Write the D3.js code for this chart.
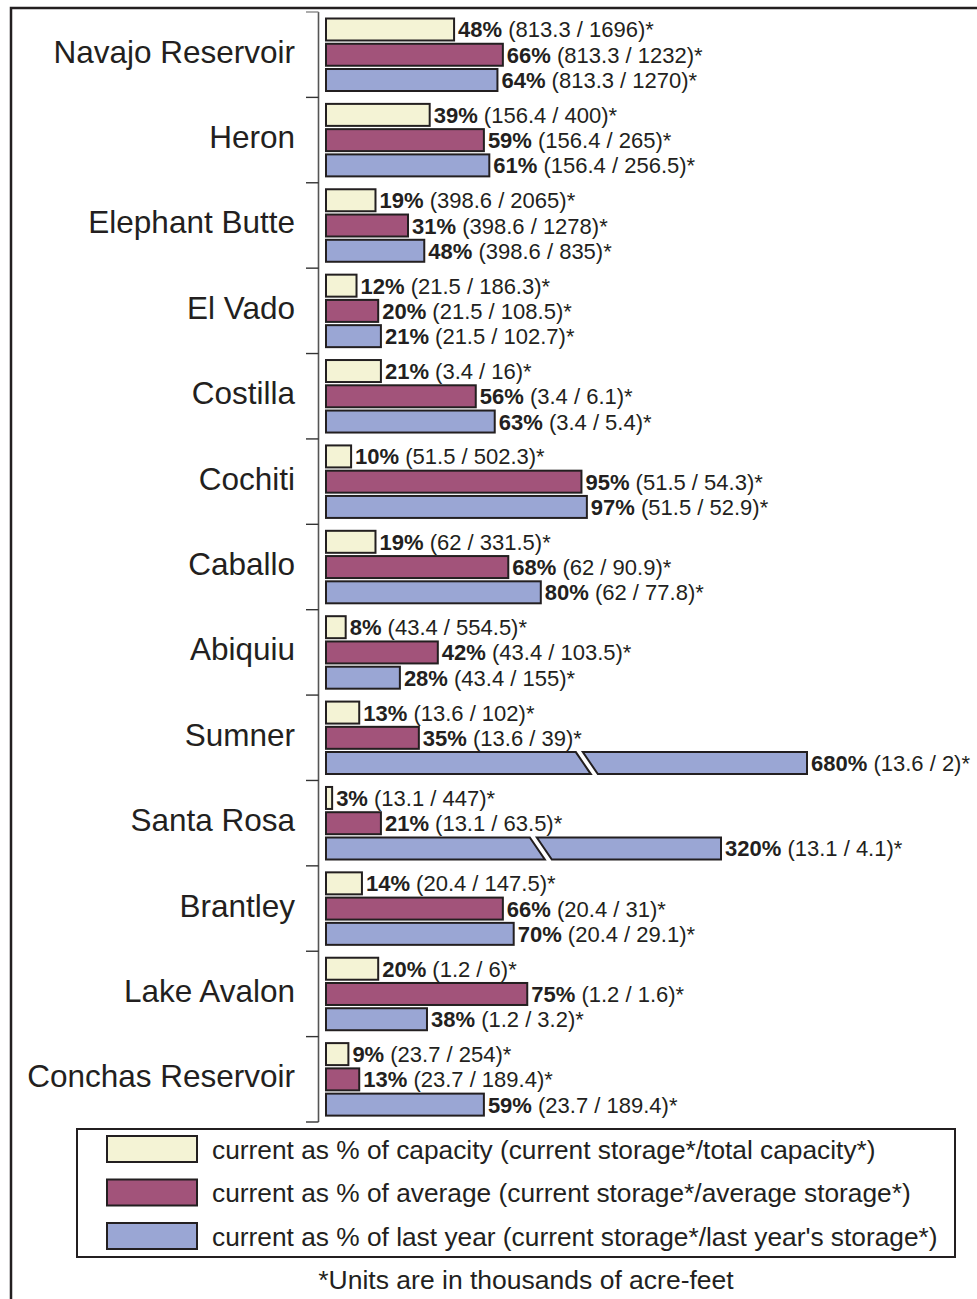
<!DOCTYPE html>
<html>
<head>
<meta charset="utf-8">
<script src="https://cdn.jsdelivr.net/npm/d3@7"></script>
<style>
  html, body { margin: 0; padding: 0; background: #fff; }
  svg { display: block; }
  text { font-family: "Liberation Sans", Arial, Helvetica, sans-serif; fill: #231f20; }
</style>
</head>
<body>
<svg id="chart" width="977" height="1299"></svg>
<script>
const categories = ["Navajo Reservoir","Heron","Elephant Butte","El Vado","Costilla","Cochiti","Caballo","Abiquiu","Sumner","Santa Rosa","Brantley","Lake Avalon","Conchas Reservoir"];
const capacityPct = [48,39,19,12,21,10,19,8,13,3,14,20,9];
const averagePct  = [66,59,31,20,56,95,68,42,35,21,66,75,13];
const lastYearPct = [64,61,48,21,63,97,80,28,680,320,70,38,59];
// bar lengths as drawn in the picture (Elephant Butte's last-year bar is drawn shorter than its label)
const lastYearBarPct = [64,61,37,21,63,97,80,28,680,320,70,38,59];
const currentStorage  = ["813.3","156.4","398.6","21.5","3.4","51.5","62","43.4","13.6","13.1","20.4","1.2","23.7"];
const totalCapacity   = ["1696","400","2065","186.3","16","502.3","331.5","554.5","102","447","147.5","6","254"];
const averageStorage  = ["1232","265","1278","108.5","6.1","54.3","90.9","103.5","39","63.5","31","1.6","189.4"];
const lastYearStorage = ["1270","256.5","835","102.7","5.4","52.9","77.8","155","2","4.1","29.1","3.2","189.4"];
const seriesNames = [
  "current as % of capacity (current storage*/total capacity*)",
  "current as % of average (current storage*/average storage*)",
  "current as % of last year (current storage*/last year's storage*)"
];
const seriesColors = ["#f4f3d5", "#a2537a", "#9aa6d4"];
const footnote = "*Units are in thousands of acre-feet";
const breakDomain = [320, 680]; // values beyond the normal axis, drawn on a broken scale

const svg = d3.select("#chart");
const ink = "#231f20";

// outer frame
svg.append("rect").attr("x", 11).attr("y", 8).attr("width", 1000).attr("height", 1320)
  .attr("fill", "none").attr("stroke", ink).attr("stroke-width", 2.5);

const x = d3.scaleLinear().domain([0, 100]).range([325, 596]);
const xBroken = d3.scaleLinear().domain(breakDomain).range([722, 808]);
const xPos = v => v > 100 ? xBroken(v) : x(v);

const y0 = d3.scaleBand().domain(categories).range([12, 1122]);
const y1 = d3.scaleBand().domain([0, 1, 2]).range([5.5, 80]).paddingInner(0.05);

// axis
const axisX = 318.5;
const axisG = svg.append("g");
axisG.append("line").attr("x1", axisX).attr("x2", axisX).attr("y1", y0.range()[0]).attr("y2", y0.range()[1])
  .attr("stroke", "#555").attr("stroke-width", 1.6);
const tickYs = categories.map(c => y0(c)).concat([y0.range()[1]]);
axisG.selectAll("line.tick").data(tickYs).join("line").attr("class", "tick")
  .attr("x1", 306).attr("x2", axisX).attr("y1", d => d).attr("y2", d => d)
  .attr("stroke", (d, i) => i === 0 ? "#888" : "#333").attr("stroke-width", 1.4);

// category labels
svg.selectAll("text.cat").data(categories).join("text").attr("class", "cat")
  .attr("x", 295).attr("y", d => y0(d) + y0.bandwidth() / 2 + 8)
  .attr("text-anchor", "end").attr("font-size", 31.5).text(d => d);

// bars
const rows = [];
categories.forEach((c, i) => {
  rows.push({c, s: 0, bar: capacityPct[i], pct: capacityPct[i], txt: `(${currentStorage[i]} / ${totalCapacity[i]})*`});
  rows.push({c, s: 1, bar: averagePct[i], pct: averagePct[i], txt: `(${currentStorage[i]} / ${averageStorage[i]})*`});
  rows.push({c, s: 2, bar: lastYearBarPct[i], pct: lastYearPct[i], txt: `(${currentStorage[i]} / ${lastYearStorage[i]})*`});
});

const sw = 2;
const barG = svg.append("g");
rows.forEach(r => {
  const top = y0(r.c) + y1(r.s) + sw / 2;
  const h = y1.bandwidth() - sw;
  const x0 = x(0) + sw / 2;
  const x1 = xPos(r.bar) - sw / 2;
  if (r.bar > 100) {
    const bx = x0 + (x1 - x0) * 0.535;
    const slant = 7.5, gap = 7;
    barG.append("path")
      .attr("d", `M${x0},${top}L${bx - slant},${top}L${bx + slant},${top + h}L${x0},${top + h}Z`)
      .attr("fill", seriesColors[r.s]).attr("stroke", ink).attr("stroke-width", sw).attr("stroke-linejoin", "miter");
    barG.append("path")
      .attr("d", `M${bx - slant + gap},${top}L${x1},${top}L${x1},${top + h}L${bx + slant + gap},${top + h}Z`)
      .attr("fill", seriesColors[r.s]).attr("stroke", ink).attr("stroke-width", sw).attr("stroke-linejoin", "miter");
  } else {
    barG.append("rect").attr("x", x0).attr("y", top).attr("width", Math.max(0, x1 - x0)).attr("height", h)
      .attr("fill", seriesColors[r.s]).attr("stroke", ink).attr("stroke-width", sw);
  }
  const t = barG.append("text").attr("x", xPos(r.bar) + 3).attr("y", top + h / 2 + 8).attr("font-size", 22);
  t.append("tspan").attr("font-weight", "bold").text(r.pct + "%");
  t.append("tspan").text(" " + r.txt);
});

// legend
const lg = svg.append("g");
lg.append("rect").attr("x", 77).attr("y", 1129).attr("width", 878).attr("height", 128)
  .attr("fill", "#fff").attr("stroke", ink).attr("stroke-width", 2);
const ly = d3.scalePoint().domain([0, 1, 2]).range([1149, 1236]);
seriesNames.forEach((n, i) => {
  lg.append("rect").attr("x", 107).attr("y", ly(i) - 13).attr("width", 90).attr("height", 26)
    .attr("fill", seriesColors[i]).attr("stroke", ink).attr("stroke-width", 2);
  lg.append("text").attr("x", 212).attr("y", ly(i) + 9.5).attr("font-size", 26.3).text(n);
});

svg.append("text").attr("x", 526).attr("y", 1289).attr("text-anchor", "middle").attr("font-size", 26.5).text(footnote);
</script>
</body>
</html>
